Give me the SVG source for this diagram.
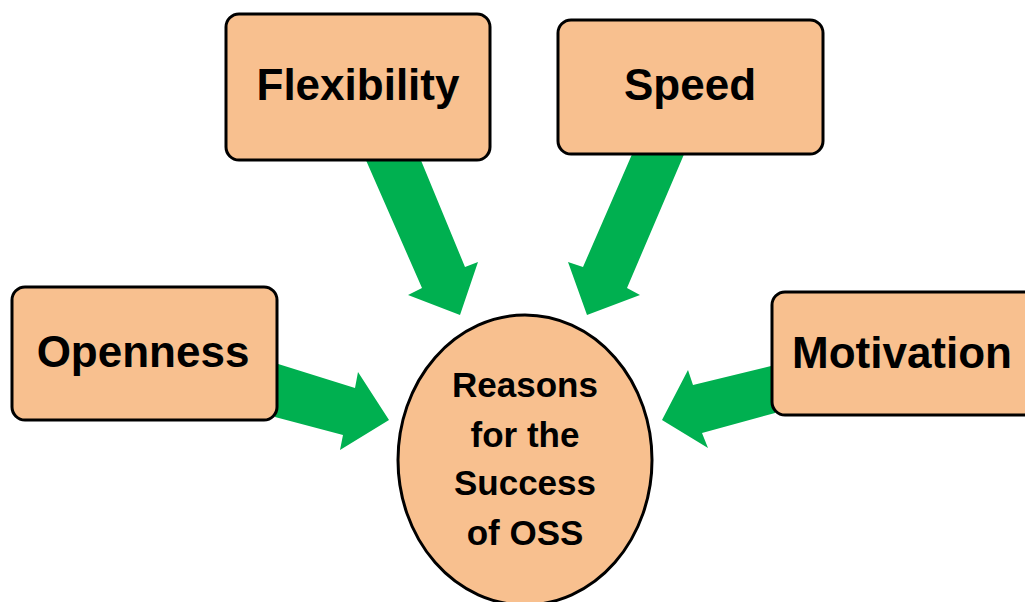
<svg xmlns="http://www.w3.org/2000/svg" width="1025" height="602" viewBox="0 0 1025 602">
<style>
.box{fill:#F8C08F;stroke:#000;stroke-width:3}
.arr{fill:#00B050}
.lbl{font-family:"Liberation Sans",Arial,sans-serif;font-weight:bold;font-size:44px;fill:#000;text-anchor:middle}
.ctr{font-family:"Liberation Sans",Arial,sans-serif;font-weight:bold;font-size:35px;fill:#000;text-anchor:middle}
</style>
<rect width="1025" height="602" fill="#fff"/>
<g id="connectors">
<polygon class="arr" points="365,158 420,158 465,267 478,262 460,315 408,295 422,288"/>
<polygon class="arr" points="633,152 685,152 627,288 640,295 587,315 568,262 583,267"/>
<polygon class="arr" points="275,363 355,388 358,372 389,420 340,450 343,435 275,417"/>
<polygon class="arr" points="775,365 693,385 688,370 662,420 708,448 702,433 775,413"/>
</g>
<g id="node-flexibility">
<rect class="box" x="226" y="14" width="264" height="146" rx="13"/>
<text class="lbl" x="358" y="100">Flexibility</text>
</g>
<g id="node-speed">
<rect class="box" x="558" y="20" width="265" height="134" rx="13"/>
<text class="lbl" x="690" y="100">Speed</text>
</g>
<g id="node-openness">
<rect class="box" x="12" y="287" width="265" height="133" rx="13"/>
<text class="lbl" x="143" y="367">Openness</text>
</g>
<g id="node-motivation">
<rect class="box" x="772" y="292" width="270" height="123" rx="13"/>
<text class="lbl" x="902" y="368">Motivation</text>
</g>
<g id="node-center">
<ellipse class="box" cx="525" cy="460" rx="127" ry="145"/>
<text class="ctr" x="525" y="397">Reasons</text>
<text class="ctr" x="525" y="447">for the</text>
<text class="ctr" x="525" y="495">Success</text>
<text class="ctr" x="525" y="545">of OSS</text>
</g>
</svg>
